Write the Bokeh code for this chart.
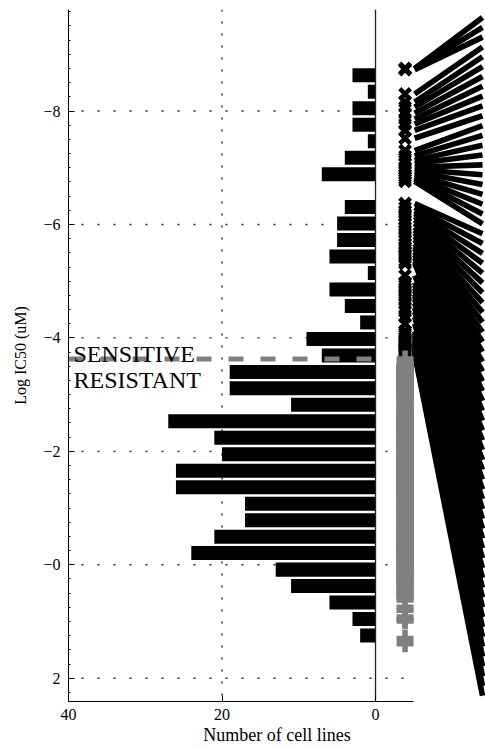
import numpy as np
from bokeh.plotting import figure
from bokeh.models import Range1d, FixedTicker, Label
from bokeh.embed import file_html
from bokeh.resources import INLINE

# ---------------- data ----------------
bin_centers = [-8.630, -8.340, -8.049, -7.759, -7.468, -7.178, -6.887, -6.597,
               -6.306, -6.016, -5.725, -5.435, -5.144, -4.854, -4.563, -4.273,
               -3.982, -3.692, -3.401, -3.111, -2.820, -2.530, -2.239, -1.949,
               -1.658, -1.368, -1.077, -0.787, -0.496, -0.206, 0.085, 0.375,
               0.666, 0.956, 1.247]
counts = [3, 1, 3, 3, 1, 4, 7, 0, 4, 5, 5, 6, 1, 6, 4, 2, 9, 7, 19, 19, 11, 27,
          21, 20, 26, 26, 17, 17, 21, 24, 13, 11, 6, 3, 2]

sensitive_ic50 = [
    -8.75, -8.74, -8.73,
    -8.30,
    -8.16, -8.07, -7.96,
    -7.86, -7.77, -7.66,
    -7.52,
    -7.30, -7.21, -7.13, -7.07,
    -7.01, -6.97, -6.93, -6.88, -6.84, -6.80, -6.76,
    -6.37, -6.30, -6.24, -6.19,
    -6.14, -6.08, -6.02, -5.95, -5.90,
    -5.85, -5.79, -5.73, -5.66, -5.61,
    -5.57, -5.51, -5.46, -5.41, -5.35, -5.31,
    -5.10,
    -4.98, -4.93, -4.88, -4.83, -4.77, -4.73,
    -4.68, -4.61, -4.53, -4.46,
    -4.37, -4.25,
    -4.12, -4.08, -4.05, -4.01, -3.97, -3.94, -3.91, -3.88, -3.85,
    -3.82, -3.80, -3.78, -3.76, -3.74, -3.72,
]

resistant_ic50 = [
    -3.63,
    -3.54, -3.52, -3.50, -3.49, -3.47, -3.45, -3.44, -3.42, -3.40, -3.39,
    -3.37, -3.35, -3.34, -3.32, -3.31, -3.29, -3.28, -3.27, -3.26,
    -3.25, -3.23, -3.22, -3.20, -3.19, -3.17, -3.15, -3.14, -3.12, -3.10,
    -3.09, -3.07, -3.06, -3.04, -3.03, -3.01, -2.99, -2.98, -2.97,
    -2.95, -2.92, -2.90, -2.87, -2.84, -2.81, -2.78, -2.75, -2.73, -2.70, -2.68,
    -2.67, -2.66, -2.65, -2.64, -2.63, -2.62, -2.60, -2.59, -2.58, -2.57,
    -2.56, -2.55, -2.54, -2.53, -2.52, -2.51, -2.50, -2.49, -2.48, -2.47,
    -2.46, -2.45, -2.44, -2.43, -2.42, -2.40, -2.39,
    -2.38, -2.37, -2.35, -2.34, -2.32, -2.31, -2.29, -2.28, -2.26, -2.25,
    -2.23, -2.22, -2.20, -2.19, -2.17, -2.16, -2.14, -2.13, -2.12, -2.11, -2.10,
    -2.09, -2.07, -2.06, -2.04, -2.03, -2.01, -2.00, -1.98, -1.96, -1.95,
    -1.93, -1.92, -1.90, -1.88, -1.87, -1.85, -1.84, -1.83, -1.82, -1.81,
    -1.80, -1.79, -1.78, -1.77, -1.76, -1.75, -1.73, -1.72, -1.71, -1.70,
    -1.68, -1.67, -1.66, -1.65, -1.63, -1.62, -1.61, -1.60, -1.59, -1.58,
    -1.57, -1.56, -1.55, -1.54, -1.53, -1.52,
    -1.51, -1.50, -1.49, -1.48, -1.47, -1.46, -1.45, -1.44, -1.42, -1.41,
    -1.40, -1.39, -1.38, -1.37, -1.35, -1.34, -1.33, -1.32, -1.31, -1.30,
    -1.29, -1.28, -1.27, -1.26, -1.25, -1.23,
    -1.22, -1.20, -1.18, -1.17, -1.15, -1.13, -1.11, -1.09, -1.07, -1.06,
    -1.04, -1.02, -1.00, -0.98, -0.96, -0.95, -0.94,
    -0.93, -0.91, -0.89, -0.88, -0.86, -0.84, -0.82, -0.80, -0.78, -0.77,
    -0.75, -0.73, -0.71, -0.69, -0.67, -0.66, -0.65,
    -0.64, -0.62, -0.61, -0.60, -0.58, -0.57, -0.55, -0.54, -0.52, -0.51,
    -0.49, -0.48, -0.46, -0.45, -0.43, -0.42, -0.40, -0.39, -0.37, -0.36, -0.355,
    -0.35, -0.34, -0.33, -0.31, -0.30, -0.29, -0.28, -0.26, -0.25, -0.24,
    -0.22, -0.21, -0.20, -0.18, -0.17, -0.16, -0.14, -0.13, -0.12, -0.10,
    -0.09, -0.08, -0.07, -0.065,
    -0.05, -0.03, 0.00, 0.02, 0.04, 0.07, 0.09, 0.12, 0.14, 0.16, 0.19, 0.21, 0.22,
    0.24, 0.27, 0.29, 0.32, 0.34, 0.37, 0.40, 0.43, 0.46, 0.48, 0.51,
    0.53, 0.55, 0.58, 0.62, 0.75, 0.80,
    0.92, 0.96, 0.99,
    1.30, 1.39,
]

threshold = -3.63
x_ticks = [40, 20, 0]
y_ticks = [-8, -6, -4, -2, 0, 2]
y_tick_labels = ["\u22128", "\u22126", "\u22124", "\u22122", "\u22120", "2"]

# ---------------- layout constants ----------------
X_LEFT, X_RIGHT = 40, -14.33
Y_TOP, Y_BOTTOM = -9.79, 2.41
AXIS_END = -4.9          # end of the bottom axis line
MARK_X = -3.85           # column of per-cell-line markers
LINK_L, LINK_R = -5.1, -13.94
RANK_TOP, RANK_BOTTOM = -9.65, 2.31
FONT = "Liberation Serif"
GREY = "#808080"

p = figure(width=485, height=749,
           x_range=Range1d(X_LEFT, X_RIGHT),
           y_range=Range1d(Y_BOTTOM, Y_TOP),
           output_backend="svg", toolbar_location=None,
           min_border_left=68, min_border_right=0,
           min_border_top=9, min_border_bottom=48)
p.outline_line_color = None
p.background_fill_color = "white"
p.border_fill_color = "white"
p.xgrid.visible = False
p.ygrid.visible = False

# axes
p.xaxis.ticker = FixedTicker(ticks=x_ticks)
p.xaxis.bounds = (AXIS_END, X_LEFT)
p.yaxis.ticker = FixedTicker(ticks=y_ticks,
                             minor_ticks=list(np.arange(-9.75, 2.5, 0.25)))
p.yaxis.major_label_overrides = dict(zip(y_ticks, y_tick_labels))
for ax in (p.xaxis[0], p.yaxis[0]):
    ax.axis_line_color = "black"
    ax.axis_line_width = 1
    ax.major_tick_in = 6
    ax.major_tick_out = 0
    ax.minor_tick_in = 2
    ax.minor_tick_out = 0
    ax.major_tick_line_color = "black"
    ax.major_label_text_font = FONT
    ax.major_label_text_font_size = "16px"
    ax.major_label_text_color = "black"
    ax.axis_label_text_font = FONT
    ax.axis_label_text_font_style = "normal"
    ax.axis_label_text_color = "black"
p.xaxis.minor_tick_line_color = None
p.xaxis.axis_label = "Number of cell lines"
p.xaxis.axis_label_text_font_size = "18px"
p.xaxis.major_label_standoff = 7
p.xaxis.axis_label_standoff = 2
p.yaxis.axis_label = "Log IC50 (uM)"
p.yaxis.axis_label_text_font_size = "16px"
p.yaxis.major_label_standoff = 8
p.yaxis.axis_label_standoff = 11

# dotted grid
n_y = len(y_ticks)
p.segment(x0=[X_LEFT] * n_y, y0=y_ticks, x1=[MARK_X] * n_y, y1=y_ticks,
          line_color="#222222", line_width=1.4, line_dash="2 14",
          line_dash_offset=3)
p.segment(x0=[20], y0=[Y_TOP], x1=[20], y1=[Y_BOTTOM],
          line_color="#222222", line_width=1.4, line_dash="2 10")

# histogram
p.hbar(y=bin_centers, left=0, right=counts, height=0.247,
       fill_color="black", line_color=None)

# bar baseline at zero
p.segment(x0=[0], y0=[Y_TOP], x1=[0], y1=[Y_BOTTOM],
          line_color="#222222", line_width=1.3)

# threshold
p.segment(x0=[X_LEFT], y0=[threshold], x1=[0], y1=[threshold],
          line_color=GREY, line_width=5, line_dash="15 17")

p.add_layout(Label(x=39.35, y=-3.722, text="SENSITIVE", text_font=FONT,
                   text_font_size="24px", text_color="black",
                   text_baseline="alphabetic", text_align="left"))
p.add_layout(Label(x=39.35, y=-3.263, text="RESISTANT", text_font=FONT,
                   text_font_size="24px", text_color="black",
                   text_baseline="alphabetic", text_align="left"))

# thick links from each sensitive cell line to its rank on the right
sens_sorted = sorted(sensitive_ic50)
n_s = len(sens_sorted)
rank_y = np.linspace(RANK_TOP, RANK_BOTTOM, n_s)
p.segment(x0=[LINK_L] * n_s, y0=sens_sorted, x1=[LINK_R] * n_s, y1=rank_y,
          line_color="black", line_width=5.6)

# per-cell-line markers
p.scatter(x=[MARK_X] * n_s, y=sensitive_ic50, marker="x", size=15,
          line_color="black", line_width=4.5)
p.scatter(x=[MARK_X] * len(resistant_ic50), y=resistant_ic50, marker="cross",
          size=17, line_color=GREY, line_width=5.5)

open("out.html", "w").write(file_html(p, INLINE))
